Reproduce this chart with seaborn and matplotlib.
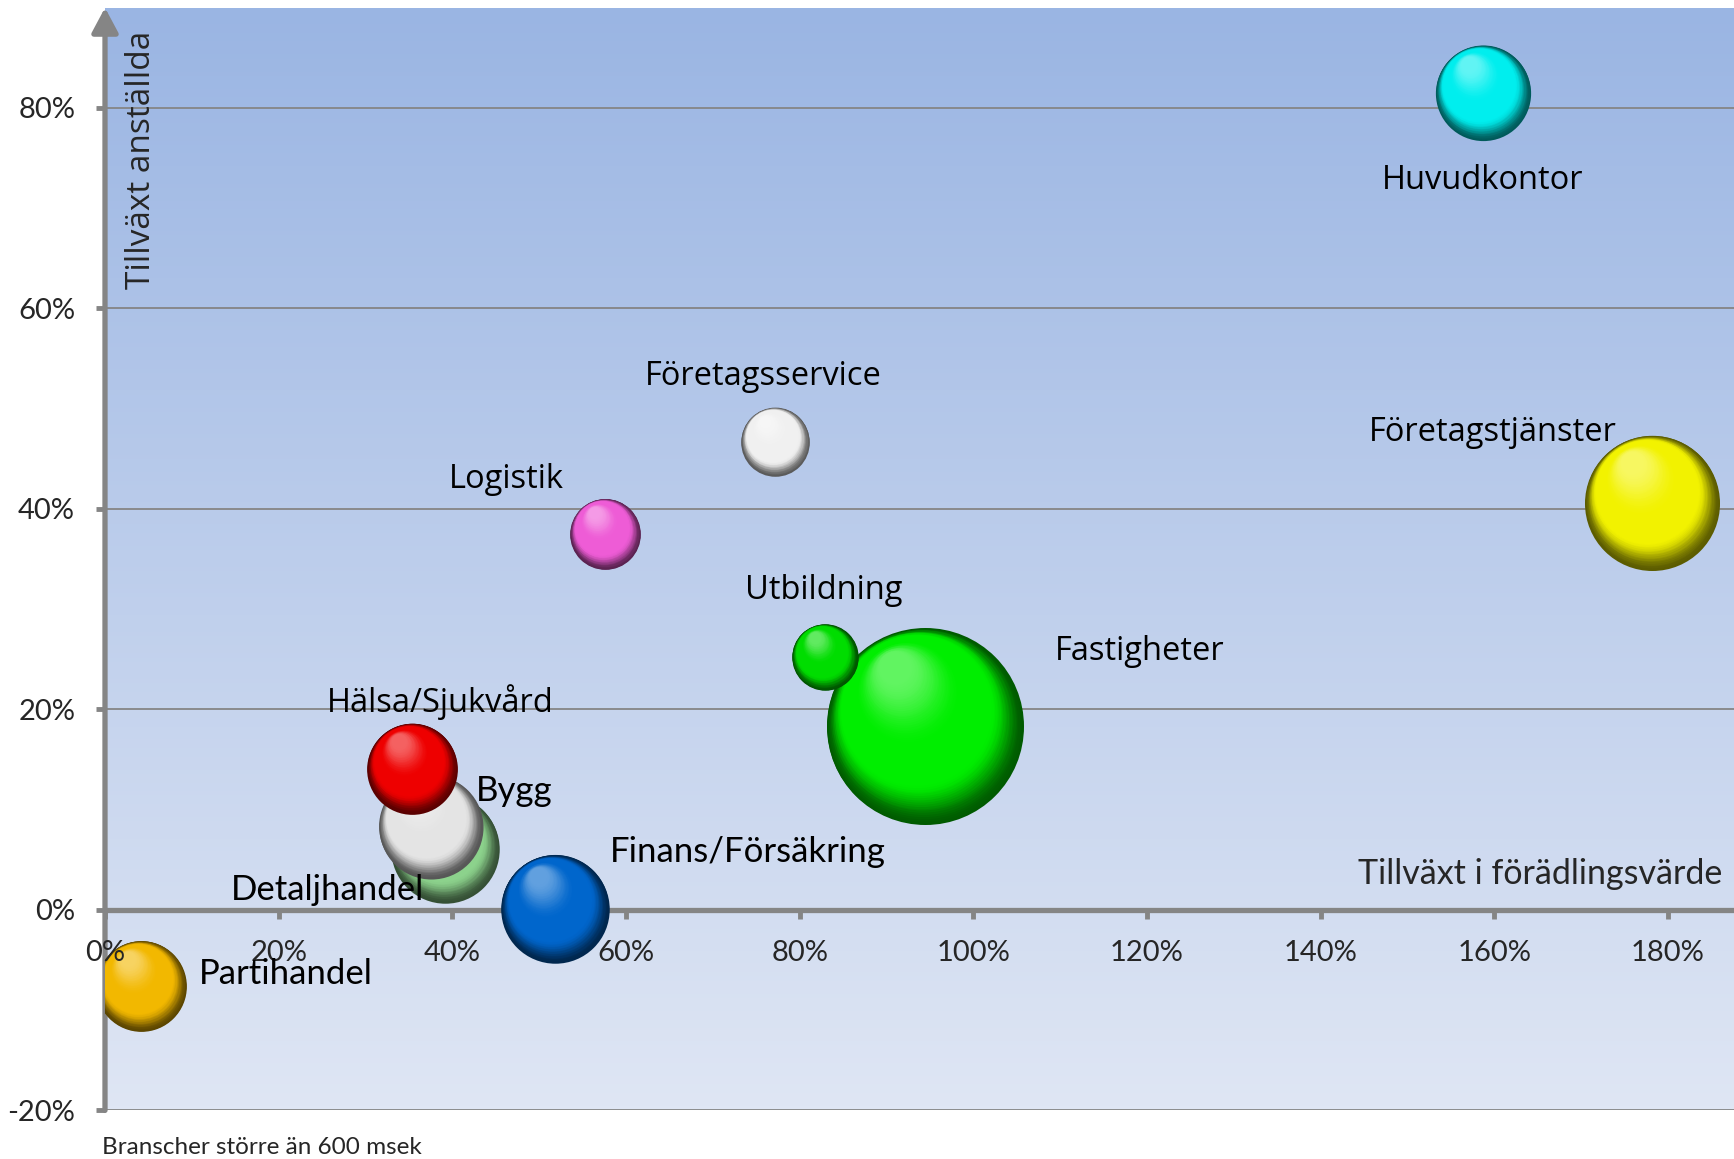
import numpy as np
import pandas as pd
import matplotlib
matplotlib.use("Agg")
import matplotlib.pyplot as plt
import seaborn as sns
from matplotlib.colors import to_rgb, LinearSegmentedColormap

# Data
branscher = [
    "Huvudkontor", "Företagstjänster", "Företagsservice", "Logistik", "Utbildning",
    "Fastigheter", "Hälsa/Sjukvård", "Bygg", "Detaljhandel", "Finans/Försäkring",
    "Partihandel",
]
tillvaxt_foradling = [158.7, 178.2, 77.2, 57.6, 82.9, 94.4, 35.4, 37.5, 39.2, 51.8, 4.2]
tillvaxt_anstallda = [81.5, 40.6, 46.7, 37.5, 25.2, 18.3, 14.1, 8.3, 6.1, 0.1, -7.6]
storlek = [1850, 3720, 960, 1020, 900, 7920, 1680, 2210, 2400, 2400, 1680]
farger = [
    "#00EEEE", "#F2F200", "#F0F0F0", "#EE5CD6", "#00DD00",
    "#00EE00", "#EE0000", "#E4E4E4", "#8CD28C", "#0066CC",
    "#F2B800",
]
# label offsets in points (dx, dy)
etikett_offset = [
    (0, -63), (-115, 51), (-9, 47), (-71, 39), (-1, 48),
    (155, 54), (20, 48), (60, 26), (-85, -30), (139, 41),
    (104, 9),
]
x_ticks = [0, 20, 40, 60, 80, 100, 120, 140, 160, 180]
y_ticks = [-20, 0, 20, 40, 60, 80]

W, H, DPI = 1734, 1159, 100
AX_RECT = [105 / W, 1 - 1110.4 / H, 1 - 105 / W, (1110.4 - 7.7) / H]
XLIM = (0, 187.6)
YLIM = (-20, 90)
GRAY = "#858585"
MAX_RADIUS_PX = 98.5

sns.set_theme(style="white")
plt.rcParams["font.family"] = ["Lato", "DejaVu Sans"]

df = pd.DataFrame({
    "bransch": branscher,
    "x": tillvaxt_foradling,
    "y": tillvaxt_anstallda,
    "storlek": storlek,
    "farg": farger,
    "dx": [o[0] for o in etikett_offset],
    "dy": [o[1] for o in etikett_offset],
})
# marker area (points^2): area proportional to bubble value
smax = (2 * MAX_RADIUS_PX * 72 / DPI) ** 2
df["s"] = df["storlek"] / df["storlek"].max() * smax
df = df.sort_values("storlek", ascending=False, kind="stable").reset_index(drop=True)

fig = plt.figure(figsize=(W / DPI, H / DPI), dpi=DPI)
ax = fig.add_axes(AX_RECT)

# gradient background
grad = np.linspace(0, 1, 256).reshape(-1, 1)
bg_cmap = LinearSegmentedColormap.from_list("bg", ["#9AB5E3", "#DFE6F4"])
ax.imshow(grad, extent=[0, 1, 0, 1], transform=ax.transAxes, aspect="auto",
          cmap=bg_cmap, origin="upper", zorder=0)
ax.set_xlim(*XLIM)
ax.set_ylim(*YLIM)

# gridlines
for v in y_ticks:
    if v != 0:
        ax.axhline(v, color=GRAY, lw=1.3, zorder=1)

# data units per pixel (for offsets in points)
ax_w_px = AX_RECT[2] * W
ax_h_px = AX_RECT[3] * H
ux = (XLIM[1] - XLIM[0]) / ax_w_px
uy = (YLIM[1] - YLIM[0]) / ax_h_px
direction = np.array([-0.45, 0.89])
direction = direction / np.linalg.norm(direction)


def smooth(t):
    t = np.clip(t, 0, 1)
    return t * t * (3 - 2 * t)


n_layers = 70
for i, row in df.iterrows():
    rgb = np.array(to_rgb(row["farg"]))
    dark = rgb * 0.38
    light = rgb + (1 - rgb) * 0.38
    z0 = 3 + i * 0.1
    sns.scatterplot(x=[row["x"]], y=[row["y"]], s=row["s"], color=dark,
                    linewidth=0, ax=ax, zorder=z0, legend=False)
    r_pt = np.sqrt(row["s"]) / 2
    for k in range(1, n_layers):
        t = k / (n_layers - 1)
        f = 1 - 0.85 * t
        c = dark + (rgb - dark) * smooth(t / 0.28)
        c = c + (light - c) * smooth((t - 0.55) / 0.45)
        off_pt = (1 - f) * r_pt * 0.8
        off_px = off_pt * DPI / 72
        xd = row["x"] + direction[0] * off_px * ux
        yd = row["y"] + direction[1] * off_px * uy
        ax.scatter([xd], [yd], s=row["s"] * f * f, color=np.clip(c, 0, 1),
                   linewidths=0, zorder=z0 + k * 0.001)

# labels
wide = {"Huvudkontor", "Företagstjänster", "Företagsservice", "Logistik",
        "Utbildning", "Fastigheter", "Hälsa/Sjukvård"}
for _, row in df.iterrows():
    if row["bransch"] in wide:
        fam, fs = ["Open Sans", "DejaVu Sans"], 23.5
    else:
        fam, fs = ["Lato", "DejaVu Sans"], 25
    ax.annotate(row["bransch"], xy=(row["x"], row["y"]),
                xytext=(row["dx"], row["dy"]), textcoords="offset points",
                ha="center", va="center", fontsize=fs, family=fam,
                color="black", zorder=12, annotation_clip=False)

# axes styling
for side in ["top", "right", "left"]:
    ax.spines[side].set_visible(False)
ax.spines["bottom"].set_position(("data", 0))
ax.spines["bottom"].set_color(GRAY)
ax.spines["bottom"].set_linewidth(3.8)
ax.spines["bottom"].set_zorder(2.5)

ax.annotate("", xy=(0, 1.0), xytext=(0, 0), xycoords="axes fraction",
            arrowprops=dict(arrowstyle="-|>,head_length=0.75,head_width=0.4",
                            color=GRAY, lw=3.8, shrinkA=0, shrinkB=0,
                            mutation_scale=20),
            annotation_clip=False, zorder=2.6)

ax.set_xticks(x_ticks)
ax.set_xticklabels([f"{v}%" for v in x_ticks])
ax.set_yticks(y_ticks)
ax.set_yticklabels([f"{v}%" for v in y_ticks])
ax.tick_params(axis="both", which="major", color=GRAY, width=3.5, length=6.5,
               labelsize=21, pad=15, direction="out")
ax.tick_params(axis="x", bottom=True)
ax.tick_params(axis="y", left=True)
ax.xaxis.set_zorder(11)
ax.yaxis.set_zorder(11)
ax.set_xlabel("")
ax.set_ylabel("")

ax.text(0.0227, 0.862, "Tillväxt anställda", transform=ax.transAxes,
        rotation=90, ha="center", va="center", fontsize=24,
        family=["Open Sans", "DejaVu Sans"], zorder=12)
ax.text(0.9926, 0.214, "Tillväxt i förädlingsvärde", transform=ax.transAxes,
        ha="right", va="center", fontsize=24.5, zorder=12)
fig.text(102 / W, 1 - 1147 / H, "Branscher större än 600 msek",
         ha="left", va="center", fontsize=17.5)

fig.savefig("out.png", dpi=DPI, facecolor="white")
